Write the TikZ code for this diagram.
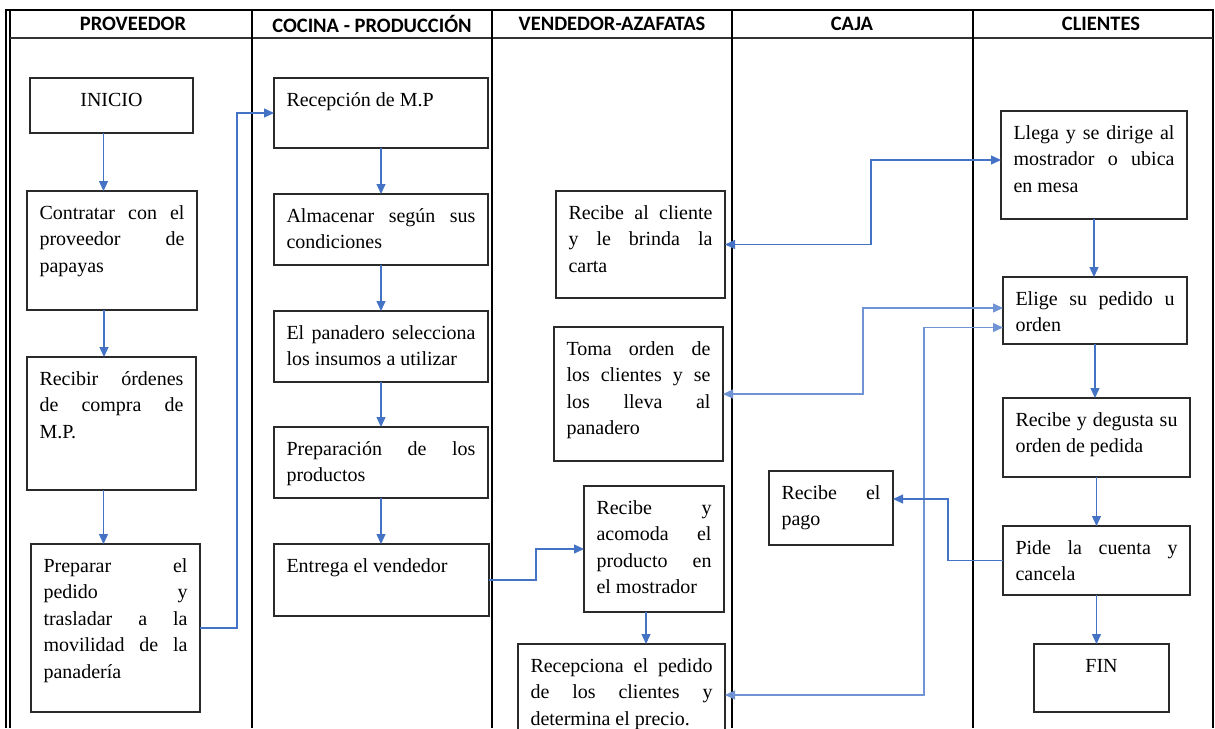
\documentclass[tikz,border=0pt]{standalone}
\usepackage{fontspec}
\setmainfont{Liberation Serif}
\newfontfamily\hdrfont{Carlito}
\usetikzlibrary{arrows.meta,calc}
\definecolor{flow}{HTML}{4472C4}
\definecolor{flowlight}{HTML}{6F93D3}
\definecolor{edgec}{HTML}{2A2A2A}
\newcommand{\bt}[4]{\parbox[t][#2pt][t]{\dimexpr#1pt-25pt\relax}{\fontsize{20pt}{26.5pt}\selectfont\hbadness=10000 \tolerance=10000 \hyphenpenalty=10000 \vspace*{9.5pt}#3\strut #4\par}}
\tikzset{
  box/.style={draw=edgec, line width=1.3pt, inner xsep=12.5pt, inner ysep=0pt, outer sep=0pt, anchor=north west},
  hdr/.style={font=\hdrfont\bfseries\fontsize{20.5pt}{23pt}\selectfont, anchor=center, inner sep=0pt},
  tip/.tip={Triangle[length=10pt,width=9pt]},
  arr/.style={draw=flow, line width=1.3pt, -tip},
  arrb/.style={draw=flow, line width=1.3pt, tip-tip},
  grid/.style={draw=black, line width=1.2pt}
}
\begin{document}
\begin{tikzpicture}[x=1pt,y=-1pt]
\useasboundingbox (0,0) rectangle (1215,728);
% table
\draw[line width=2.5pt] (5,10) -- (1214,10);
\draw[grid] (6,10) -- (6,728);
\draw[grid] (10,10) -- (10,728);
\draw[grid, line width=1.5pt] (1213,10) -- (1213,728);
\draw[draw=black!80, line width=1.8pt] (10,38) -- (1213,38);
\foreach \xx in {252,492,732,973} \draw[grid] (\xx,10) -- (\xx,728);
% headers
\node[hdr] (h1) at (133,24) {PROVEEDOR};
\node[hdr] (h2) at (372,24) {COCINA - PRODUCCIÓN};
\node[hdr] (h3) at (612,24) {VENDEDOR-AZAFATAS};
\node[hdr] (h4) at (852,24) {CAJA};
\node[hdr] (h5) at (1101,24) {CLIENTES};
% proveedor
\node[box] (inicio) at (30,78) {\bt{163}{55}{\centering}{INICIO}};
\node[box] (contratar) at (27,191) {\bt{170}{119}{}{Contratar con el\linebreak proveedor de\linebreak papayas}};
\node[box] (recibir) at (27,357) {\bt{169}{133}{}{Recibir órdenes\linebreak de compra de\linebreak M.P.}};
\node[box] (preparar) at (31,544) {\bt{169}{168}{}{Preparar el\linebreak pedido y\linebreak trasladar a la\linebreak movilidad de la\linebreak panadería}};
% cocina
\node[box] (recepcion) at (274,78) {\bt{214}{70}{}{Recepción de M.P}};
\node[box] (almacenar) at (274,194) {\bt{214}{71}{}{Almacenar según sus\linebreak condiciones}};
\node[box] (panadero) at (274,311) {\bt{214}{71}{}{El panadero selecciona\linebreak los insumos a utilizar}};
\node[box] (preparacion) at (274,427) {\bt{214}{71}{}{Preparación de los\linebreak productos}};
\node[box] (entrega) at (274,544) {\bt{215}{72}{}{Entrega el vendedor}};
% vendedor
\node[box] (recibecli) at (556,191) {\bt{169}{107}{}{Recibe al cliente\linebreak y le brinda la\linebreak carta}};
\node[box] (toma) at (554,327) {\bt{169}{134}{}{Toma orden de\linebreak los clientes y se\linebreak los lleva al\linebreak panadero}};
\node[box] (acomoda) at (584,486) {\bt{140}{126}{}{Recibe y\linebreak acomoda el\linebreak producto en\linebreak el mostrador}};
\node[box] (recepciona) at (518,644) {\bt{207}{102}{}{Recepciona el pedido\linebreak de los clientes y\linebreak determina el precio.}};
% caja
\node[box] (pago) at (769,471) {\bt{124}{74}{}{Recibe el\linebreak pago}};
% clientes
\node[box] (llega) at (1001,111) {\bt{186}{108}{}{Llega y se dirige al\linebreak mostrador o ubica\linebreak en mesa}};
\node[box] (elige) at (1003,277) {\bt{184}{67}{}{Elige su pedido u\linebreak orden}};
\node[box] (degusta) at (1003,398) {\bt{187}{79}{}{Recibe y degusta su\linebreak orden de pedida}};
\node[box] (pide) at (1003,526) {\bt{187}{69}{}{Pide la cuenta y\linebreak cancela}};
\node[box] (fin) at (1034,644) {\bt{135}{68}{\centering}{FIN}};
% bend coordinates
\coordinate (k1) at (237,0);
\coordinate (k2) at (536,0);
\coordinate (k3) at (871,0);
\coordinate (k4) at (863,0);
\coordinate (k5) at (924,0);
\coordinate (k6) at (948,0);
% connectors
\draw[arr] ([xshift=-8pt]inicio.south) -- ([xshift=-8pt]inicio.south |- contratar.north);
\draw[arr] ([xshift=-8pt]contratar.south) -- ([xshift=-8pt]contratar.south |- recibir.north);
\draw[arr] ([xshift=-8pt]recibir.south) -- ([xshift=-8pt]recibir.south |- preparar.north);
\draw[arr] (preparar.east) -- (preparar.east -| k1) |- (recepcion.west);
\draw[arr] (recepcion.south) -- (almacenar.north);
\draw[arr] (almacenar.south) -- (panadero.north);
\draw[arr] (panadero.south) -- (preparacion.north);
\draw[arr] (preparacion.south) -- (preparacion.south |- entrega.north);
\draw[arr] (entrega.east) -- (entrega.east -| k2) |- (acomoda.west);
\draw[arr] ([xshift=-8pt]acomoda.south) -- ([xshift=-8pt]acomoda.south |- recepciona.north);
\draw[arrb] (recibecli.east) -- (recibecli.east -| k3) |- ([yshift=5pt]llega.west);
\draw[arrb, draw=flowlight] (toma.east) -- (toma.east -| k4) |- ([yshift=2.5pt]elige.west);
\draw[arrb, draw=flowlight] (recepciona.east) -- (recepciona.east -| k5) |- ([yshift=-17pt]elige.west);
\draw[arr] (pide.west) -- (pide.west -| k6) |- ([yshift=9pt]pago.east);
\draw[arr] (llega.south) -- (llega.south |- elige.north);
\draw[arr] (elige.south) -- (elige.south |- degusta.north);
\draw[arr] (degusta.south) -- (degusta.south |- pide.north);
\draw[arr] (pide.south) -- (pide.south |- fin.north);
\end{tikzpicture}
\end{document}
